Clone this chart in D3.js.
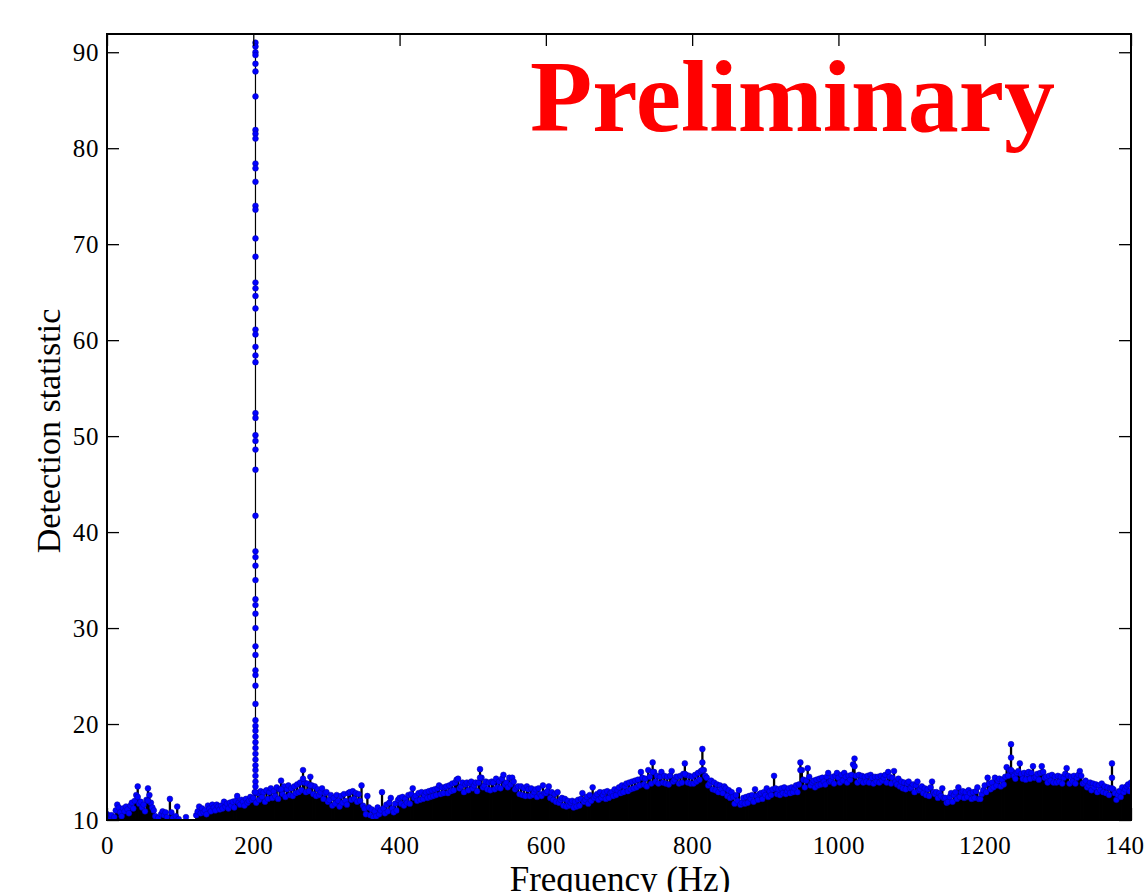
<!DOCTYPE html>
<html>
<head>
<meta charset="utf-8">
<script src="https://cdn.jsdelivr.net/npm/d3@7"></script>
<style>
  html, body { margin: 0; padding: 0; background: #fff; }
  svg { display: block; }
  .tick text { font-family: "Liberation Serif", "Times New Roman", serif; font-size: 25px; fill: #000; letter-spacing: 0.6px; }
  .tick line { stroke: #000; stroke-width: 1.3; }
</style>
</head>
<body>
<svg id="chart" width="1145" height="892"></svg>
<script>
// Detection statistic vs frequency — stem plot, 2 Hz bins

// Axis ticks
const xTicks = [0, 200, 400, 600, 800, 1000, 1200, 1400];
const yTicks = [10, 20, 30, 40, 50, 60, 70, 80, 90];
const binStep = 2; // Hz between bins

// Detection statistic per bin, one array per 200 Hz band (values < 10 fall below the axis)
const band0 = [10.6,10.4,10.2,10.5,9.8,10.3,11.0,11.6,11.3,10.8,
  10.4,11.2,10.9,11.4,11.1,10.7,11.5,11.8,11.2,12.0,
  12.6,13.5,11.7,11.9,11.3,11.6,10.9,12.1,13.3,12.6,
  11.8,11.3,11.0,10.4,9.6,10.2,9.5,10.6,10.9,10.5,
  10.8,10.3,9.4,12.2,10.8,10.2,9.5,10.4,11.4,10.1,
  9.3,9.5,9.2,9.6,10.3,9.4,9.1,9.3,9.5,9.2,
  9.6,10.5,10.9,11.4,10.7,11.2,10.8,11.0,10.6,11.5,
  11.2,10.9,11.6,11.3,11.0,11.6,11.4,11.1,11.5,11.2,
  11.9,11.4,11.7,11.2,11.8,11.5,11.9,11.3,12.0,12.5,
  11.8,11.6,12.1,11.9,11.5,12.2,11.8,12.0,12.4,12.1];
const band1 = [12.3,12.9,11.8,12.8,12.1,13.0,12.4,12.9,11.9,13.1,
  12.2,12.9,13.3,12.3,13.0,12.5,13.4,12.2,13.2,14.1,
  12.7,13.5,12.4,13.2,13.6,12.6,13.3,12.5,13.5,12.8,
  13.7,12.9,13.9,13.1,15.2,13.9,12.9,13.8,13.0,14.5,
  13.6,12.7,13.5,12.5,13.2,12.6,12.9,13.3,12.2,12.8,
  12.9,11.9,12.1,12.6,11.5,12.3,11.7,12.6,12.0,11.4,
  12.5,11.8,12.7,12.0,11.6,12.8,12.9,12.1,13.0,12.2,
  12.8,11.9,12.7,12.0,13.6,11.5,11.2,10.6,12.5,11.3,
  10.5,11.1,10.3,10.9,10.4,11.3,10.6,11.0,12.9,11.2,
  10.7,11.6,10.9,11.8,12.3,11.2,10.8,11.7,11.0,12.1];
const band2 = [12.3,11.7,12.4,11.5,12.2,11.8,12.6,11.7,12.7,13.3,
  12.3,12.5,12.0,12.8,12.1,12.9,12.2,12.6,12.9,12.3,
  13.0,12.4,13.1,12.5,13.2,12.6,13.3,13.6,12.7,13.4,
  12.8,13.4,13.5,12.8,13.6,13.0,13.8,13.1,13.9,14.2,
  14.3,13.3,13.5,13.9,12.9,13.7,13.9,13.1,13.8,14.0,
  13.3,13.6,13.9,13.0,13.9,15.3,14.4,13.4,13.6,14.0,
  13.2,13.9,13.1,14.0,13.9,13.2,14.3,13.4,14.0,13.3,
  14.3,14.7,13.7,13.9,13.4,14.4,13.7,14.4,14.0,13.2,
  13.4,13.5,12.7,13.5,12.6,13.3,12.5,13.5,13.2,12.5,
  13.3,12.6,12.9,13.2,12.4,13.3,12.7,12.5,13.6,12.8];
const band3 = [12.8,13.0,13.5,12.3,12.9,12.1,12.7,11.9,12.9,11.8,
  12.1,12.3,11.5,12.2,11.4,12.0,11.5,11.8,12.0,11.3,
  11.9,11.4,12.1,11.5,12.2,12.8,11.9,12.1,12.4,11.7,
  12.6,12.0,13.4,12.3,12.5,12.7,12.1,12.9,12.3,12.6,
  12.9,12.2,13.0,12.3,12.8,12.9,12.5,13.2,12.6,13.1,
  13.4,12.8,13.6,12.9,13.5,13.8,13.0,13.9,13.2,14.0,
  13.3,14.1,13.4,14.2,13.6,15.0,14.4,13.7,14.3,13.5,
  15.2,14.5,13.8,16.0,15.0,14.0,14.6,13.8,14.5,15.0,
  13.9,14.6,13.8,14.5,13.7,14.6,15.1,14.0,14.2,14.5,
  14.5,13.8,14.6,13.9,14.8,15.9,14.7,13.9,14.6,13.8];
const band4 = [14.5,13.8,14.7,14.0,14.9,14.2,15.1,17.4,15.2,14.6,
  14.4,13.6,13.8,14.1,13.2,13.9,13.1,13.7,12.9,13.6,
  13.2,12.8,13.5,13.3,12.5,13.1,12.3,12.9,12.4,11.7,
  12.6,12.0,13.1,11.6,11.8,12.3,11.7,12.4,11.8,12.5,
  12.2,12.6,11.9,13.2,12.5,12.1,12.7,12.8,12.2,12.9,
  12.6,13.3,12.4,13.0,12.6,13.2,14.6,13.3,12.7,13.2,
  12.6,13.3,12.8,13.4,12.7,13.0,13.3,12.8,13.4,12.9,
  13.3,13.6,12.9,13.7,16.0,15.2,14.2,13.4,14.1,15.4,
  14.5,13.6,13.9,14.1,13.4,14.2,13.6,14.3,13.7,14.4,
  14.0,13.7,14.5,14.9,14.0,14.1,14.5,13.8,14.6,14.9];
const band5 = [14.4,13.9,14.7,14.1,14.9,14.5,13.9,14.6,14.2,14.7,
  15.8,16.4,14.6,13.9,14.7,14.1,14.6,13.9,14.5,14.0,
  14.6,13.9,14.7,14.4,13.8,14.5,14.0,14.5,13.9,14.6,
  14.1,14.4,14.7,13.9,15.0,14.5,13.8,14.4,15.1,14.0,
  13.7,14.3,13.5,14.0,13.3,13.9,13.2,13.8,14.0,13.3,
  13.4,13.7,12.9,13.6,14.0,13.1,13.2,13.5,12.8,13.3,
  12.6,13.2,12.5,13.4,14.0,12.9,12.7,12.9,12.3,12.8,
  12.5,13.3,12.3,12.3,11.8,11.9,12.4,12.8,11.9,12.6,
  12.9,12.2,13.4,12.4,12.9,13.0,12.3,12.9,12.4,13.1,
  12.8,12.2,12.9,12.3,13.0,13.4,12.2,12.2,12.7,13.1];
const band6 = [13.6,12.9,14.4,13.8,13.2,13.9,13.4,14.4,13.6,14.1,
  14.3,13.5,14.2,13.7,14.5,15.5,14.6,15.2,17.9,15.0,
  14.6,14.3,14.9,15.1,15.9,14.8,14.3,14.9,14.2,14.8,
  15.0,14.3,14.9,15.6,14.4,14.5,14.8,14.2,14.9,15.6,
  15.0,14.4,14.5,13.9,14.6,14.1,14.7,13.9,14.5,13.9,
  14.6,14.0,14.5,13.8,14.4,14.8,15.4,14.6,13.8,14.5,
  14.0,14.6,13.8,14.4,14.7,15.1,14.6,13.8,13.9,14.1,
  13.4,13.6,13.9,13.1,13.8,13.4,13.7,12.9,13.6,13.1,
  13.8,12.9,13.5,12.8,13.4,12.6,13.3,15.9,13.2,12.8,
  12.1,12.6,13.0,12.4,13.4,12.9,13.2,13.5,13.7,13.0,
  13.9];
const bands = [band0, band1, band2, band3, band4, band5, band6];

// Extra markers sitting lower on the same stem (several templates per bin)
const stackedDots = [[42,12.4],[56,12.0],[238,13.2],[268,14.3],[278,13.6],[510,14.4],
  [746,15.0],[790,14.8],[814,16.0],[814,15.2],[948,15.2],[1022,15.6],
  [1236,16.5],[1236,15.2],[1374,14.4],[1374,13.3]];

// The injected signal near 203 Hz: many markers on one stem
const spikeFreq = 203;
const spikeValues = [91.0,90.6,90.0,89.7,88.8,88.0,85.4,81.9,81.5,81.0,78.4,77.9,76.5,
  74.0,73.6,70.6,68.7,66.0,65.4,64.6,63.3,61.1,60.6,59.3,58.4,57.7,52.4,51.9,
  50.1,49.5,48.6,46.5,41.7,38.0,37.4,36.5,35.0,33.0,32.4,31.5,30.0,28.1,27.2,
  25.6,25.1,24.0,22.1,20.4,19.8,19.3,18.7,18.1,17.5,16.9,16.3,15.7,15.2,14.6,
  14.0,13.5,12.9];

// Scales
const svg = d3.select("#chart");
const plot = { left: 107, right: 1131, top: 34, bottom: 820 };
const x = d3.scaleLinear().domain([0, 1400]).range([plot.left, plot.right]);
const y = d3.scaleLinear().domain([10, 91.9]).range([plot.bottom, plot.top]);

const bins = bands.flatMap((arr, b) => arr.map((v, i) => ({ f: b * 200 + i * binStep, v })))
  .filter(d => d.v >= 10);
const dots = bins.concat(stackedDots.map(([f, v]) => ({ f, v })));
const spikeDots = spikeValues.map(v => ({ f: spikeFreq, v }));

svg.append("clipPath").attr("id", "clip")
  .append("rect")
  .attr("x", plot.left).attr("y", plot.top)
  .attr("width", plot.right - plot.left).attr("height", plot.bottom - plot.top);

const g = svg.append("g").attr("clip-path", "url(#clip)");

// Stems
g.append("g").selectAll("line")
  .data(bins)
  .join("line")
  .attr("x1", d => x(d.f)).attr("x2", d => x(d.f))
  .attr("y1", y(10)).attr("y2", d => y(d.v))
  .attr("stroke", "#000")
  .attr("stroke-width", 2.3);

g.append("line")
  .attr("x1", x(spikeFreq)).attr("x2", x(spikeFreq))
  .attr("y1", y(10)).attr("y2", y(d3.max(spikeValues)))
  .attr("stroke", "#000")
  .attr("stroke-width", 1.2);

// Markers
g.append("g").selectAll("circle")
  .data(dots.concat(spikeDots))
  .join("circle")
  .attr("cx", d => x(d.f))
  .attr("cy", d => y(d.v))
  .attr("r", 2.9)
  .attr("fill", "#0000ff")
  .attr("stroke", "#00009a")
  .attr("stroke-width", 0.5);

// Axes with inward ticks on all four sides
svg.append("g")
  .attr("transform", `translate(0,${plot.bottom})`)
  .call(d3.axisBottom(x).tickValues(xTicks).tickSize(-12).tickPadding(16).tickFormat(d3.format("d")));
svg.append("g")
  .attr("transform", `translate(0,${plot.top})`)
  .call(d3.axisTop(x).tickValues(xTicks).tickSize(-12).tickFormat(""));
svg.append("g")
  .attr("transform", `translate(${plot.left},0)`)
  .call(d3.axisLeft(y).tickValues(yTicks).tickSize(-12).tickPadding(8).tickFormat(d3.format("d")));
svg.append("g")
  .attr("transform", `translate(${plot.right},0)`)
  .call(d3.axisRight(y).tickValues(yTicks).tickSize(-12).tickFormat(""));

svg.selectAll(".domain").remove();

// Frame
svg.append("rect")
  .attr("x", plot.left).attr("y", plot.top)
  .attr("width", plot.right - plot.left).attr("height", plot.bottom - plot.top)
  .attr("fill", "none")
  .attr("stroke", "#000")
  .attr("stroke-width", 2);

// Axis labels
svg.append("text")
  .attr("x", 620).attr("y", 891)
  .attr("text-anchor", "middle")
  .style("font-family", "'Liberation Serif', 'Times New Roman', serif")
  .style("font-size", "35px")
  .text("Frequency (Hz)");

svg.append("text")
  .attr("transform", "translate(60,431) rotate(-90)")
  .attr("text-anchor", "middle")
  .style("font-family", "'Liberation Serif', 'Times New Roman', serif")
  .style("font-size", "34px")
  .text("Detection statistic");

// Watermark
svg.append("text")
  .attr("x", 530).attr("y", 131)
  .style("font-family", "'Liberation Serif', 'Times New Roman', serif")
  .style("font-weight", "bold")
  .style("font-size", "102px")
  .attr("fill", "#ff0000")
  .text("Preliminary");
</script>
</body>
</html>
